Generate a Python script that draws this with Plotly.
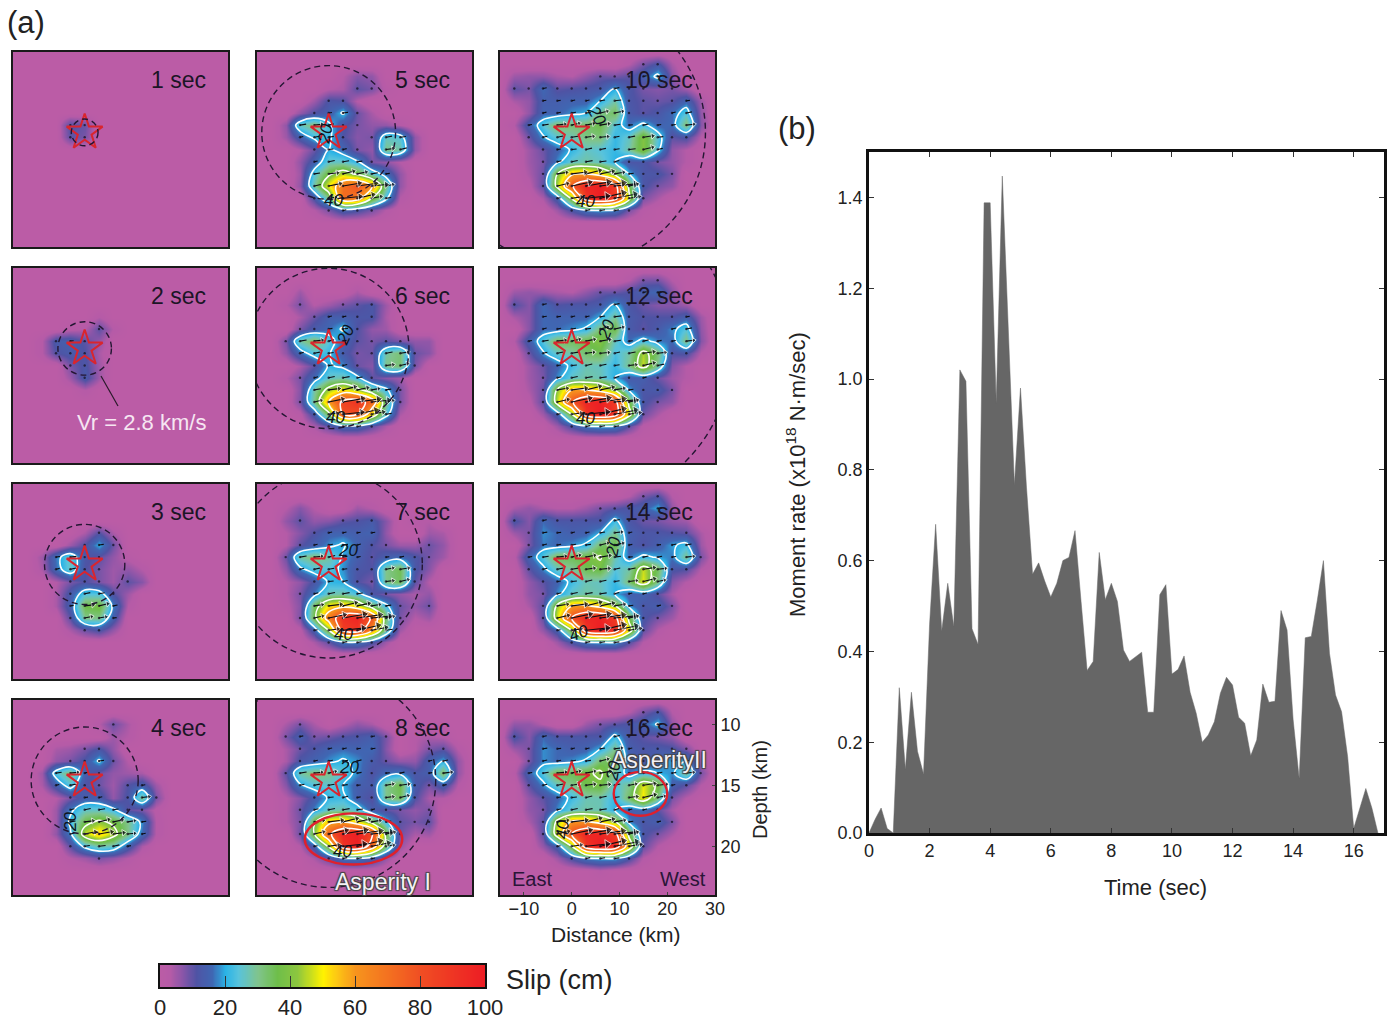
import math
import numpy as np
import plotly.graph_objects as go

# ---------- data ----------
dist_km = [-12, -9, -6, -3, 0, 3, 6, 9, 12, 15, 18, 21, 24, 27]
depth_km = [9, 10, 11, 12, 13, 14, 15, 16, 17, 18, 19, 20, 21, 22]

slip_1 = [[0]*14]*5 + [
 [0,0,0,11,9,0,0,0,0,0,0,0,0,0],
 [0,0,0,10,8,0,0,0,0,0,0,0,0,0],
] + [[0]*14]*7
slip_2 = [[0]*14]*3 + [
 [0,0,0,0,0,3,0,0,0,0,0,0,0,0],
 [0,0,0,2,3,10,3,0,0,0,0,0,0,0],
 [0,3,13,14,10,6,0,0,0,0,0,0,0,0],
 [0,3,11,13,11,4,0,0,0,0,0,0,0,0],
 [0,0,0,8,12,5,0,0,0,0,0,0,0,0],
 [0,0,0,5,13,5,0,0,0,0,0,0,0,0],
 [0,0,0,0,3,0,0,0,0,0,0,0,0,0],
] + [[0]*14]*4
slip_3 = [[0]*14]*3 + [
 [0,0,0,0,4,11,4,0,0,0,0,0,0,0],
 [0,0,0,5,11,20,9,0,0,0,0,0,0,0],
 [0,5,17,26,12,10,6,2,0,0,0,0,0,0],
 [0,4,16,26,11,8,5,6,3,0,0,0,0,0],
 [0,0,3,8,11,8,5,10,7,0,0,0,0,0],
 [0,0,4,13,24,24,11,5,0,0,0,0,0,0],
 [0,0,4,14,36,38,18,3,0,0,0,0,0,0],
 [0,0,0,10,30,30,14,0,0,0,0,0,0,0],
 [0,0,0,4,9,12,6,0,0,0,0,0,0,0],
] + [[0]*14]*2
slip_4 = [[0]*14] + [
 [0,0,0,0,0,3,9,4,0,0,0,0,0,0],
 [0,0,0,0,0,0,5,3,0,0,0,0,0,0],
 [0,0,4,5,8,12,6,0,0,0,0,0,0,0],
 [0,0,6,8,12,21,9,3,0,0,0,0,0,0],
 [0,5,24,32,14,9,6,5,4,0,0,0,0,0],
 [0,4,14,24,11,9,5,11,14,5,0,0,0,0],
 [0,0,3,8,14,14,6,12,30,8,0,0,0,0],
 [0,0,5,18,26,26,22,10,8,2,0,0,0,0],
 [0,0,5,22,36,42,38,30,18,3,0,0,0,0],
 [0,0,6,18,46,54,44,30,16,3,0,0,0,0],
 [0,0,0,10,22,28,26,14,4,0,0,0,0,0],
 [0,0,0,3,5,8,6,3,0,0,0,0,0,0],
 [0]*14,
]
slip_5 = [[0]*14] + [
 [0,0,0,0,0,3,7,6,0,0,0,0,0,0],
 [0,0,0,0,3,4,10,8,2,0,0,0,0,0],
 [0,0,0,5,12,11,3,0,0,0,0,0,0,0],
 [0,0,6,11,14,21,9,4,0,0,0,0,0,0],
 [0,6,26,32,22,12,8,6,6,3,0,0,0,0],
 [0,5,14,22,22,11,7,8,26,24,6,0,0,0],
 [0,0,3,9,20,16,8,6,30,28,6,0,0,0],
 [0,0,6,14,26,26,21,8,6,3,0,0,0,0],
 [0,0,5,24,38,46,38,26,16,6,0,0,0,0],
 [0,0,6,28,50,70,78,62,30,6,0,0,0,0],
 [0,0,0,12,30,72,68,40,22,3,0,0,0,0],
 [0,0,0,3,8,14,12,8,3,0,0,0,0,0],
 [0]*14,
]
slip_6 = [[0]*14] + [
 [0,0,5,0,0,0,4,0,0,0,0,0,0,0],
 [0,3,8,3,5,8,10,12,5,0,0,0,0,0],
 [0,0,4,9,14,14,12,12,4,0,0,0,0,0],
 [0,0,8,13,16,21,11,6,5,0,0,0,0,0],
 [0,8,28,34,24,15,10,8,10,8,6,6,0,0],
 [0,6,16,24,21,13,8,9,28,32,9,7,0,0],
 [0,0,4,10,21,18,9,7,30,32,8,0,0,0],
 [0,3,8,16,26,28,22,10,7,5,0,0,0,0],
 [0,0,7,28,44,52,44,30,22,8,0,0,0,0],
 [0,0,8,30,60,84,90,72,30,8,0,0,0,0],
 [0,0,2,13,36,80,80,50,24,4,0,0,0,0],
 [0,0,0,4,10,16,16,10,4,0,0,0,0,0],
 [0]*14,
]
slip_7 = [[0]*14] + [
 [0,3,7,3,0,0,5,3,0,0,0,0,0,0],
 [0,6,10,6,7,10,11,13,7,0,3,3,0,0],
 [0,3,7,11,15,15,14,15,6,0,0,5,4,0],
 [0,3,10,14,18,21,15,11,8,5,5,9,6,0],
 [0,9,28,32,28,19,14,10,14,16,12,8,5,0],
 [0,6,18,24,24,18,12,11,30,35,12,7,0,0],
 [0,3,6,12,21,20,11,8,30,34,10,3,0,0],
 [0,3,8,17,27,28,23,12,8,6,4,6,0,0],
 [0,2,7,34,52,56,50,34,22,9,6,9,0,0],
 [0,0,8,36,68,92,96,78,32,8,3,5,0,0],
 [0,0,2,14,40,86,90,62,28,5,0,0,0,0],
 [0,0,0,4,10,18,18,12,5,0,0,0,0,0],
 [0]*14,
]
slip_8 = [[0]*14] + [
 [0,4,8,4,0,3,6,4,0,0,0,0,0,0],
 [0,8,14,8,9,11,12,14,8,0,3,4,3,0],
 [0,4,9,12,15,16,15,16,7,0,3,8,10,3],
 [0,4,12,15,18,21,18,13,9,6,6,14,20,6],
 [0,10,28,32,30,24,18,11,16,18,12,14,34,6],
 [0,7,19,24,25,20,14,13,30,36,13,8,14,3],
 [0,3,7,13,21,22,14,10,30,34,11,4,3,0],
 [0,3,9,18,27,28,24,14,10,8,6,8,0,0],
 [0,3,8,38,56,60,52,36,22,10,8,10,0,0],
 [0,0,9,40,76,96,98,84,36,9,4,5,0,0],
 [0,0,3,14,42,90,98,72,32,6,0,0,0,0],
 [0,0,0,4,10,18,19,14,6,0,0,0,0,0],
 [0]*14,
]
slip_10 = [
 [0,0,0,0,0,0,0,0,3,8,12,4,0,0],
 [5,6,6,4,3,6,9,8,10,14,22,7,0,0],
 [10,8,16,10,11,12,13,20,12,8,7,8,5,0],
 [4,6,14,14,15,15,20,28,12,10,9,10,15,5],
 [0,6,15,15,18,20,30,34,13,10,12,16,24,6],
 [3,14,24,33,32,33,36,24,16,22,15,16,32,7],
 [0,9,19,25,27,31,32,21,26,40,24,10,12,3],
 [0,5,9,15,21,26,24,21,28,40,22,6,3,0],
 [0,5,8,18,26,28,26,20,12,12,8,6,3,0],
 [0,4,9,40,58,60,54,38,20,12,12,8,0,0],
 [0,2,10,44,78,96,98,88,36,12,8,6,0,0],
 [0,0,4,14,42,90,100,88,44,8,4,0,0,0],
 [0,0,0,5,12,18,20,18,8,2,0,0,0,0],
 [0]*14,
]
slip_12 = [
 [0,0,0,0,0,0,0,0,3,8,8,3,0,0],
 [5,6,5,4,3,6,9,9,11,14,16,7,0,0],
 [11,7,16,11,12,12,13,21,12,9,7,7,5,0],
 [4,7,16,15,15,15,20,29,13,11,11,11,14,5],
 [0,7,16,16,18,21,32,36,13,10,13,18,24,6],
 [3,14,24,34,34,36,40,26,16,23,17,16,31,7],
 [0,9,19,26,28,33,35,23,28,44,32,11,12,3],
 [0,5,9,15,22,27,26,21,30,46,28,7,3,0],
 [0,5,8,18,26,28,27,20,13,14,9,5,3,0],
 [0,4,9,42,60,60,54,40,19,12,13,8,0,0],
 [0,2,10,46,78,96,98,88,36,12,8,6,0,0],
 [0,0,5,14,40,90,100,90,46,9,4,0,0,0],
 [0,0,0,5,12,18,20,19,10,2,0,0,0,0],
 [0]*14,
]
slip_14 = [
 [0,0,0,0,0,0,0,0,3,8,11,3,0,0],
 [4,6,4,3,3,5,8,10,12,14,20,6,0,0],
 [12,7,16,12,12,12,12,22,12,9,8,6,5,0],
 [5,8,18,16,14,15,20,30,14,12,12,11,10,4],
 [0,8,17,16,18,21,33,36,14,11,14,19,22,5],
 [2,15,24,35,35,37,41,27,16,22,19,17,30,8],
 [0,10,18,26,29,35,37,24,28,46,34,12,11,3],
 [0,6,10,15,22,27,26,21,32,48,30,7,3,0],
 [0,6,8,18,26,28,27,20,14,15,10,4,0,0],
 [0,4,10,43,60,62,55,41,18,12,14,8,0,0],
 [0,0,10,47,80,96,97,88,36,12,8,5,0,0],
 [0,0,6,14,40,90,100,92,48,10,3,0,0,0],
 [0,0,0,5,12,18,20,20,11,3,0,0,0,0],
 [0]*14,
]
slip_16 = [
 [0,0,0,0,0,0,0,0,3,8,12,3,0,0],
 [6,6,3,0,0,5,8,10,12,14,21,6,0,0],
 [12,7,16,12,12,12,12,22,12,10,8,6,0,0],
 [5,8,18,16,14,15,20,30,14,12,13,12,8,0],
 [0,8,18,16,18,21,33,36,15,12,15,20,20,4],
 [2,15,24,36,35,38,42,28,16,22,20,18,30,8],
 [0,10,18,26,30,36,38,24,30,48,38,14,10,3],
 [0,6,10,15,22,27,27,21,34,50,30,8,3,0],
 [0,6,8,18,26,28,27,20,14,16,10,4,0,0],
 [0,4,10,44,62,62,55,42,18,12,14,8,0,0],
 [0,0,10,48,80,96,96,88,36,12,8,4,0,0],
 [0,0,6,14,40,90,100,95,50,10,3,0,0,0],
 [0,0,0,5,12,18,20,20,12,3,0,0,0,0],
 [0,0,0,0,0,0,2,0,0,0,0,0,0,0],
]

snapshots_sec = [1, 2, 3, 4, 5, 6, 7, 8, 10, 12, 14, 16]
slip_grids = [slip_1, slip_2, slip_3, slip_4, slip_5, slip_6, slip_7, slip_8,
              slip_10, slip_12, slip_14, slip_16]
rupture_visible = [True]*10 + [False, False]
rupture_velocity = 2.8  # km/s

time_sec = [0,0.2,0.4,0.6,0.8,1.0,1.2,1.4,1.6,1.8,2.0,2.2,2.4,2.6,2.8,3.0,3.2,3.4,3.6,3.8,4.0,4.2,4.4,4.6,4.8,5.0,
            5.2,5.4,5.6,5.8,6.0,6.2,6.4,6.6,6.8,7.0,7.2,7.4,7.6,7.8,8.0,8.2,8.4,8.6,8.8,9.0,9.2,9.4,9.6,9.8,10.0,
            10.2,10.4,10.6,10.8,11.0,11.2,11.4,11.6,11.8,12.0,12.2,12.4,12.6,12.8,13.0,13.2,13.4,13.6,13.8,14.0,
            14.2,14.4,14.6,14.8,15.0,15.2,15.4,15.6,15.8,16.0,16.2,16.4,16.6,16.8]
moment_rate = [0,0.03,0.055,0.01,0,0.32,0.14,0.31,0.18,0.13,0.46,0.68,0.445,0.55,0.455,1.02,0.995,0.45,0.415,1.388,1.388,
               0.947,1.447,1.1,0.767,0.98,0.76,0.57,0.595,0.555,0.52,0.55,0.6,0.607,0.666,0.51,0.358,0.378,0.618,0.514,0.55,
               0.51,0.403,0.378,0.389,0.398,0.266,0.266,0.525,0.547,0.35,0.36,0.39,0.31,0.264,0.20,0.216,0.245,0.308,0.343,
               0.326,0.255,0.242,0.17,0.205,0.328,0.288,0.29,0.49,0.447,0.25,0.12,0.43,0.433,0.513,0.6,0.396,0.304,0.267,
               0.168,0.01,0.054,0.098,0.055,0]

colorbar_values = list(range(0, 101))
colorbar_ticks = [0, 20, 40, 60, 80, 100]
time_ticks = list(range(0, 17, 2))
rate_ticks = [0.0, 0.2, 0.4, 0.6, 0.8, 1.0, 1.2, 1.4]
rate_labels = ["0.0", "0.2", "0.4", "0.6", "0.8", "1.0", "1.2", "1.4"]

# ---------- style / layout helpers ----------
FONT = "Liberation Sans"
INK = "#1c1526"
W, H = 1389, 1021
def X(px): return px / W
def Y(py): return 1 - py / H

colorscale = [
    [0.00, "#BB5CA6"], [0.03, "#B55BA7"], [0.07, "#8655A8"], [0.11, "#4F53A4"], [0.16, "#3F67B3"],
    [0.20, "#2AB3E6"], [0.24, "#58C3DC"], [0.30, "#80C48C"], [0.36, "#6EBE4A"], [0.42, "#8CC63F"],
    [0.50, "#FFF200"], [0.54, "#FDC913"], [0.60, "#F7941D"], [0.80, "#F04E23"], [1.00, "#ED1C24"],
]

col_left = [12, 256, 499]
row_top = [51, 267, 483, 699]
PW, PH = 217, 197
HYPO_D = 14.6
XR = [-15, 30]
YR = [24, 8]
px_per_km = PW / 45
px_per_d = PH / 16

grid_x = [-15] + dist_km + [30]
grid_y = [8] + depth_km + [23, 24]

panel_pos = [(0, r) for r in range(4)] + [(1, r) for r in range(4)] + [(2, r) for r in range(4)]

fig = go.Figure()
layout = {}
shapes = []
annotations = []

def note(text, px, py, size=21, color=INK, xanchor="center", angle=0, shadow=None, italic=False):
    font = dict(family=FONT, size=size, color=color)
    if shadow:
        font["shadow"] = shadow
    if italic:
        font["style"] = "italic"
    annotations.append(dict(text=text, x=X(px), y=Y(py), xref="paper", yref="paper", showarrow=False,
                            xanchor=xanchor, yanchor="middle", textangle=angle, font=font))

for i, (sec, grid) in enumerate(zip(snapshots_sec, slip_grids)):
    idx = i + 1
    c, r = panel_pos[i]
    xname, yname = f"x{idx}", f"y{idx}"
    zfull = np.zeros((len(grid_y), len(grid_x)))
    zfull[1:15, 1:15] = np.array(grid, dtype=float)
    fig.add_trace(go.Heatmap(x=grid_x, y=grid_y, z=zfull, coloraxis="coloraxis", zsmooth="best",
                             xaxis=xname, yaxis=yname, hoverinfo="skip"))
    fig.add_trace(go.Contour(x=grid_x, y=grid_y, z=zfull, showscale=False, xaxis=xname, yaxis=yname,
                             contours=dict(coloring="none", start=20, end=100, size=20),
                             line=dict(color="white", width=1.6, smoothing=1.0), hoverinfo="skip"))
    # slip vectors: one per subfault, length following the slip there
    lx, ly, tx, ty, ta, ts, bx, by = [], [], [], [], [], [], [], []
    for ri, d in enumerate(depth_km):
        for ci, x0 in enumerate(dist_km):
            s = grid[ri][ci]
            if s < 8:
                continue
            bx.append(x0); by.append(d)
            if s < 14:
                continue
            ang = 6 + (ci * 7 + ri * 5) % 9
            L_px = s * 0.24
            x1 = x0 + L_px * math.cos(math.radians(ang)) / px_per_km
            d1 = d - L_px * math.sin(math.radians(ang)) / px_per_d
            lx += [x0, x1, None]; ly += [d, d1, None]
            if s >= 30:
                tx.append(x1); ty.append(d1); ta.append(90 - ang); ts.append(3.5 + s * 0.05)
    fig.add_trace(go.Scatter(x=bx, y=by, mode="markers", marker=dict(size=2.4, color="#151020", opacity=0.75),
                             xaxis=xname, yaxis=yname, hoverinfo="skip"))
    fig.add_trace(go.Scatter(x=lx, y=ly, mode="lines", line=dict(color="#0c0c12", width=1.1),
                             xaxis=xname, yaxis=yname, hoverinfo="skip"))
    if tx:
        fig.add_trace(go.Scatter(x=tx, y=ty, mode="markers", xaxis=xname, yaxis=yname, hoverinfo="skip",
                                 marker=dict(symbol="triangle-up", size=ts, angle=ta, color="#0c0c12")))
    fig.add_trace(go.Scatter(x=[0], y=[HYPO_D], mode="markers", xaxis=xname, yaxis=yname, hoverinfo="skip",
                             marker=dict(symbol="star-open", size=27, color="#D9252E", line=dict(width=2, color="#D9252E"))))

    x0p, y0p = col_left[c], row_top[r]
    is_last = i == 11
    xax = dict(domain=[X(x0p + 1), X(x0p + PW - 1)], range=XR, anchor=yname, showline=True, mirror=True, linewidth=2,
               linecolor="#1a1a1a", showgrid=False, zeroline=False, layer="above traces", automargin=False,
               tickvals=[-10, 0, 10, 20, 30] if is_last else [], ticks="inside" if is_last else "", ticklen=3,
               showticklabels=is_last, ticklabelstandoff=-4 if is_last else 0,
               tickfont=dict(family=FONT, size=18, color="#222"))
    yax = dict(domain=[Y(y0p + PH - 1), Y(y0p + 1)], range=YR, anchor=xname, showline=True, mirror=True, linewidth=2,
               linecolor="#1a1a1a", showgrid=False, zeroline=False, layer="above traces", automargin=False,
               tickvals=[10, 15, 20] if is_last else [], ticks="inside" if is_last else "", ticklen=3,
               showticklabels=is_last, side="right", tickfont=dict(family=FONT, size=18, color="#222"))
    layout[f"xaxis{idx}"] = xax
    layout[f"yaxis{idx}"] = yax

    if rupture_visible[i]:
        rx = rupture_velocity * sec
        ry = rx * px_per_km / px_per_d
        shapes.append(dict(type="circle", xref=xname, yref=yname, x0=-rx, x1=rx, y0=HYPO_D - ry, y1=HYPO_D + ry,
                           line=dict(color="#241633", width=1.4, dash="6px,4px"), layer="above"))
    note(f"{sec} sec", x0p + PW - 21, y0p + 29, size=23, xanchor="right")

# Asperity ellipses
for xname, yname, cx, cd, rx, rd in [("x8", "y8", 5.2, 19.4, 10.2, 2.1), ("x12", "y12", 14.4, 15.7, 5.6, 1.8)]:
    shapes.append(dict(type="circle", xref=xname, yref=yname, x0=cx - rx, x1=cx + rx, y0=cd - rd, y1=cd + rd,
                       line=dict(color="#E0202C", width=2.4), layer="above"))

# Vr pointer
shapes.append(dict(type="line", xref="paper", yref="paper", x0=X(101), y0=Y(376), x1=X(118), y1=Y(406),
                   line=dict(color="#2a1a2a", width=1.2)))

note("Vr = 2.8 km/s", 141, 422, size=22, color="#F6E6F2")
halo = "1px 1px 1px #444, -1px -1px 1px #444, 1px -1px 1px #444, -1px 1px 1px #444"
note("Asperity I", 383, 882, size=23, color="#F4F0F4", shadow=halo)
note("AsperityII", 659, 760, size=23, color="#F4F0F4", shadow=halo)
note("East", 532, 879, size=20, color="#2a1538")
note("West", 683, 879, size=20, color="#2a1538")
note("Distance (km)", 616, 934, size=21, color="#222")
note("Depth (km)", 760, 790, size=20, color="#222", angle=-90)

contour_labels = [
    ("40", 333, 200, 0), ("20", 326, 134, -80), ("20", 345, 335, -65), ("40", 335, 417, 0),
    ("20", 348, 550, 0), ("40", 343, 634, 0), ("20", 349, 767, 0), ("40", 342, 851, 0),
    ("20", 597, 115, 60), ("40", 585, 202, 0), ("20", 607, 330, -70), ("40", 585, 418, 0),
    ("20", 613, 547, -80), ("40", 578, 633, -20), ("20", 613, 771, -80), ("40", 562, 830, -85),
    ("20", 70, 822, -90),
]
for t, px, py, a in contour_labels:
    note(t, px, py, size=17, color="#0d1420", angle=a, italic=True)

# ---------- panel (b) ----------
fig.add_trace(go.Scatter(x=time_sec, y=moment_rate, mode="lines", fill="tozeroy", fillcolor="#666666",
                         line=dict(color="#666666", width=0.5), xaxis="x13", yaxis="y13"))
layout["xaxis13"] = dict(domain=[X(869), X(1384)], range=[0, 17], anchor="y13", showline=True, mirror="ticks",
                         linewidth=2.5, linecolor="#111", tickvals=time_ticks, ticks="inside", ticklen=5,
                         tickcolor="#333", showgrid=False, zeroline=False, automargin=False,
                         tickfont=dict(family=FONT, size=18, color="#222"), layer="above traces")
layout["yaxis13"] = dict(domain=[Y(833), Y(152)], range=[0, 1.5], anchor="x13", showline=True, mirror="ticks",
                         linewidth=2.5, linecolor="#111", tickvals=rate_ticks, ticktext=rate_labels, ticks="inside",
                         ticklen=5, tickcolor="#333", showgrid=False, zeroline=False, automargin=False,
                         tickfont=dict(family=FONT, size=18, color="#222"), layer="above traces")
note("Time (sec)", 1155, 887, size=22, color="#222")
note("Moment rate (x10<sup>18</sup> N·m/sec)", 796, 475, size=22, color="#222", angle=-90)

# ---------- colour bar as its own small axis ----------
fig.add_trace(go.Heatmap(x=colorbar_values, y=[0, 1], z=[colorbar_values, colorbar_values], coloraxis="coloraxis",
                         zsmooth="best", xaxis="x14", yaxis="y14", hoverinfo="skip"))
layout["xaxis14"] = dict(domain=[X(160), X(485)], range=[0, 100], anchor="y14", showline=True, mirror=True, linewidth=2,
                         linecolor="#111", tickvals=colorbar_ticks, ticks="inside", ticklen=11, tickcolor="#333",
                         showgrid=False, zeroline=False, tickfont=dict(family=FONT, size=22, color="#222"),
                         layer="above traces", automargin=False)
layout["yaxis14"] = dict(domain=[Y(987), Y(965)], range=[0, 1], anchor="x14", showline=True, mirror=True, linewidth=2,
                         linecolor="#111", showticklabels=False, ticks="", showgrid=False, zeroline=False,
                         automargin=False)

note("(a)", 26, 22, size=31, color="#222")
note("(b)", 797, 128, size=31, color="#222")
note("Slip (cm)", 559, 980, size=27, color="#222")

fig.update_layout(
    width=W, height=H, margin=dict(l=0, r=0, t=0, b=0, autoexpand=False), showlegend=False,
    paper_bgcolor="white", plot_bgcolor="white",
    font=dict(family=FONT, color="#222"),
    coloraxis=dict(cmin=0, cmax=100, colorscale=colorscale, showscale=False),
    shapes=shapes, annotations=annotations, **layout)
fig.write_html("out.html", config={"displayModeBar": False}, post_script="document.body.style.margin='0';")
